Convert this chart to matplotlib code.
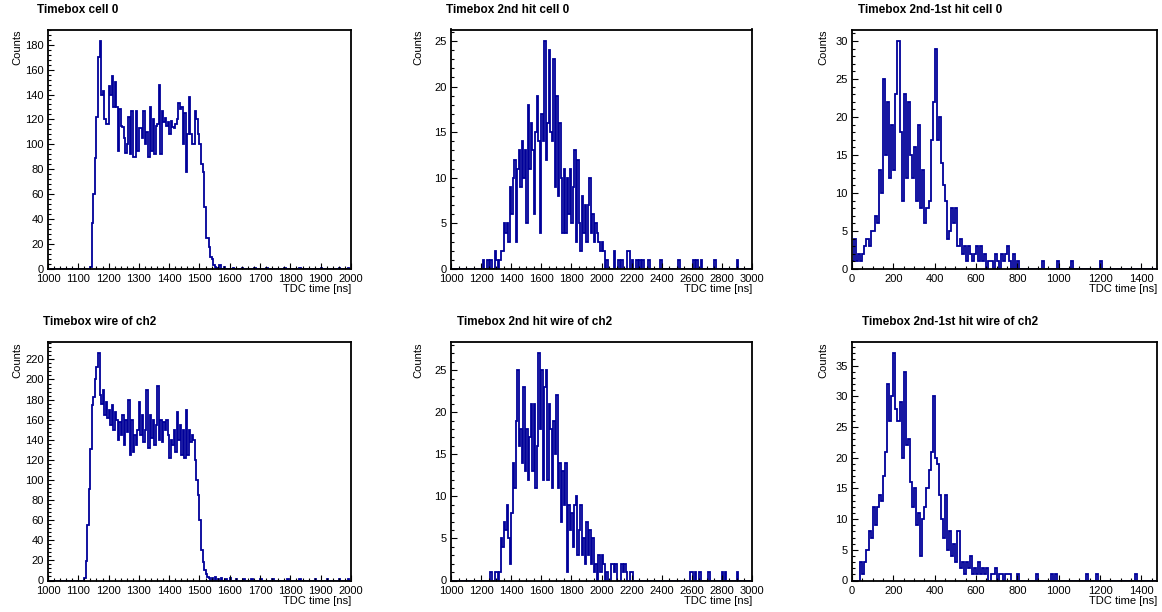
import matplotlib

matplotlib.use("Agg")
from matplotlib import pyplot as plt
from matplotlib.ticker import MultipleLocator
import numpy as np

plt.rcParams["font.family"] = ["Liberation Sans", "DejaVu Sans"]

# ---- data (counts per bin) ----
# Timebox cell 0: 5 ns bins, first bin at 1140 ns
cell0_start = 1140
cell0_counts = [2, 37, 60, 89, 122, 170, 183, 140, 143, 120, 116, 116, 147, 140, 155,
                130, 150, 130, 95, 128, 115, 114, 105, 93, 100, 122, 92, 127, 90, 90,
                127, 95, 113, 113, 105, 127, 100, 110, 90, 130, 95, 120, 92, 115, 116,
                148, 92, 127, 118, 121, 115, 118, 108, 119, 114, 113, 116, 120, 133, 128,
                130, 100, 125, 78, 108, 138, 108, 100, 100, 127, 120, 108, 100, 84, 78,
                50, 25, 25, 18, 10, 8, 3]
cell0_tail_t = [1550, 1555, 1565, 1580, 1610, 1640, 1680, 1720, 1780, 1830, 1900, 1960, 1990]
cell0_tail_n = [2, 1, 3, 2, 1, 1, 1, 1, 1, 1, 1, 1, 1]

# Timebox 2nd hit cell 0: 10 ns bins, first bin at 1200 ns
hit2_cell0_start = 1200
hit2_cell0_counts = [0, 1, 0, 0, 1, 0, 1, 0, 0, 2, 1, 0, 1, 2, 2, 5, 4, 5, 3, 9,
                     6, 10, 12, 3, 11, 13, 9, 14, 10, 13, 5, 18, 11, 16, 13, 6, 15, 19, 14, 4,
                     17, 14, 25, 12, 16, 24, 15, 14, 23, 9, 19, 8, 16, 10, 4, 11, 4, 10, 6, 11,
                     5, 9, 13, 3, 12, 5, 2, 8, 4, 7, 3, 7, 10, 4, 6, 3, 5, 4, 3, 2,
                     3, 2, 0, 1, 0, 0, 0, 0, 2, 0, 0, 1, 0, 1, 0, 0, 0, 2, 2, 0, 1]
hit2_cell0_tail_t = [2230, 2250, 2270, 2310, 2390, 2510, 2610, 2630, 2660, 2750, 2900]
hit2_cell0_tail_n = [1, 1, 1, 1, 1, 1, 1, 1, 1, 1, 1]

# Timebox 2nd-1st hit cell 0: 10 ns bins, first bin at 0 ns
diff_cell0_start = 0
diff_cell0_counts = [1, 4, 1, 2, 1, 2, 3, 4, 3, 5, 5, 7, 6, 13, 10, 25, 15, 22, 12, 19,
                     13, 23, 30, 18, 9, 23, 12, 22, 15, 12, 16, 9, 19, 8, 13, 6, 8, 9, 17, 22,
                     29, 17, 20, 14, 11, 9, 4, 5, 8, 6, 8, 3, 4, 2, 3, 1, 3, 2, 1, 2,
                     3, 1, 3, 1, 2, 0, 1, 1, 0, 2, 1, 0, 2, 1, 2, 3, 1, 0, 2, 0, 1]
diff_cell0_tail_t = [920, 990, 1060, 1200]
diff_cell0_tail_n = [1, 1, 1, 1]

# Timebox wire of ch2: 5 ns bins, first bin at 1120 ns
wire_start = 1120
wire_counts = [2, 19, 55, 91, 131, 175, 183, 200, 212, 226, 185, 176, 190, 165, 178,
               162, 170, 155, 175, 150, 168, 160, 140, 158, 145, 165, 135, 160, 148, 180,
               125, 160, 128, 145, 135, 150, 178, 145, 165, 138, 150, 190, 132, 165, 142,
               160, 135, 155, 194, 140, 160, 138, 158, 150, 160, 145, 122, 140, 135, 150,
               128, 168, 140, 155, 125, 150, 122, 170, 125, 150, 138, 145, 140, 120, 100,
               85, 60, 30, 18, 10, 6, 3, 2]
wire_tail_t = [1540, 1550, 1560, 1570, 1585, 1600, 1620, 1645, 1670, 1700, 1740, 1790,
               1830, 1880, 1920, 1960, 1990]
wire_tail_n = [2, 3, 1, 2, 1, 2, 1, 1, 1, 1, 1, 1, 1, 1, 1, 1, 1]

# Timebox 2nd hit wire of ch2: 10 ns bins, first bin at 1260 ns
hit2_wire_start = 1260
hit2_wire_counts = [1, 0, 0, 1, 1, 0, 1, 5, 4, 7, 6, 9, 5, 2, 8, 14, 11, 19, 25, 16,
                    18, 14, 23, 13, 18, 12, 17, 21, 13, 21, 11, 16, 27, 18, 25, 12, 23, 25, 12, 21,
                    18, 11, 19, 15, 22, 11, 14, 7, 13, 9, 14, 1, 9, 6, 8, 4, 9, 10, 3, 6,
                    9, 3, 5, 2, 7, 3, 6, 2, 5, 1, 2, 0, 3, 1, 3, 2, 0, 1, 0, 0,
                    2, 2, 1, 2, 0, 0, 0, 2, 1, 2, 1, 0, 0, 1, 1]
hit2_wire_tail_t = [2590, 2600, 2620, 2650, 2710, 2800, 2820, 2900]
hit2_wire_tail_n = [1, 1, 1, 1, 1, 1, 1, 1]

# Timebox 2nd-1st hit wire of ch2: 10 ns bins, first bin at 40 ns
diff_wire_start = 40
diff_wire_counts = [3, 1, 3, 5, 8, 7, 12, 9, 12, 14, 13, 17, 21, 32, 26, 30, 37, 28, 26, 29,
                    20, 34, 22, 23, 16, 12, 15, 9, 11, 4, 10, 12, 15, 18, 21, 30, 20, 19, 14, 10,
                    7, 14, 5, 8, 4, 6, 3, 8, 2, 3, 1, 3, 2, 4, 1, 2, 1, 3, 1, 2,
                    1, 2, 0, 1, 1, 2, 0, 1, 1, 0, 1, 1, 1]
diff_wire_tail_t = [800, 890, 960, 980, 1130, 1180, 1370]
diff_wire_tail_n = [1, 1, 1, 1, 1, 1, 1]


def build(lo, hi, width, start, counts, tail_t, tail_n):
    edges = np.arange(lo, hi + width / 2, width)
    h = np.zeros(len(edges) - 1)
    i0 = int(round((start - lo) / width))
    h[i0:i0 + len(counts)] = counts
    for t, n in zip(tail_t, tail_n):
        h[int((t - lo) // width)] += n
    return edges, h


W, H = 1162, 612
fig = plt.figure(figsize=(W / 100, H / 100), dpi=100)

cols = [(48, 351), (451, 752), (852, 1157)]
rows = [(29.5, 269), (342, 580.5)]
title_x = [[37, 446, 858], [43, 457, 862]]
title_y = [10, 322]
ylab_x = [17, 418, 823]
xlab_y = [289, 601]

panels = [
    ("Timebox cell 0", (1000, 2000, 5), cell0_start, cell0_counts, cell0_tail_t, cell0_tail_n,
     (100, 20), (20, 4)),
    ("Timebox 2nd hit cell 0", (1000, 3000, 10), hit2_cell0_start, hit2_cell0_counts,
     hit2_cell0_tail_t, hit2_cell0_tail_n, (200, 50), (5, 1)),
    ("Timebox 2nd-1st hit cell 0", (0, 1475, 10), diff_cell0_start, diff_cell0_counts,
     diff_cell0_tail_t, diff_cell0_tail_n, (200, 50), (5, 1)),
    ("Timebox wire of ch2", (1000, 2000, 5), wire_start, wire_counts, wire_tail_t, wire_tail_n,
     (100, 20), (20, 4)),
    ("Timebox 2nd hit wire of ch2", (1000, 3000, 10), hit2_wire_start, hit2_wire_counts,
     hit2_wire_tail_t, hit2_wire_tail_n, (200, 50), (5, 1)),
    ("Timebox 2nd-1st hit wire of ch2", (0, 1475, 10), diff_wire_start, diff_wire_counts,
     diff_wire_tail_t, diff_wire_tail_n, (200, 50), (5, 1)),
]

for k, (title, (lo, hi, width), start, counts, tt, tn, xt, yt) in enumerate(panels):
    r, c = divmod(k, 3)
    x0, x1 = cols[c]
    ytop, ybot = rows[r]
    ax = fig.add_axes([x0 / W, 1 - ybot / H, (x1 - x0) / W, (ybot - ytop) / H])
    edges, h = build(lo, hi, width, start, counts, tt, tn)
    ax.stairs(h, edges, color="#000099", lw=1.3)
    ax.set_xlim(lo, hi)
    ax.set_ylim(0, 1.05 * h.max())
    ax.xaxis.set_major_locator(MultipleLocator(xt[0]))
    ax.xaxis.set_minor_locator(MultipleLocator(xt[1]))
    ax.yaxis.set_major_locator(MultipleLocator(yt[0]))
    ax.yaxis.set_minor_locator(MultipleLocator(yt[1]))
    ax.tick_params(which="both", direction="in", top=False, right=False,
                   labelsize=8, width=0.8)
    ax.tick_params(axis="x", which="both", pad=3.6)
    ax.tick_params(axis="y", which="both", pad=3.0)
    ax.tick_params(which="major", length=4.3)
    ax.tick_params(which="minor", length=2.2)
    for s in ax.spines.values():
        s.set_linewidth(1.3)
    fig.text(title_x[r][c] / W, 1 - title_y[r] / H, title, fontsize=8.5,
             fontweight="bold", ha="left", va="center")
    fig.text(ylab_x[c] / W, 1 - ytop / H, "Counts", fontsize=8, rotation=90,
             ha="center", va="top")
    fig.text(x1 / W, 1 - xlab_y[r] / H, "TDC time [ns]", fontsize=8,
             ha="right", va="center")

fig.savefig("out.png", dpi=100)
plt.close(fig)
